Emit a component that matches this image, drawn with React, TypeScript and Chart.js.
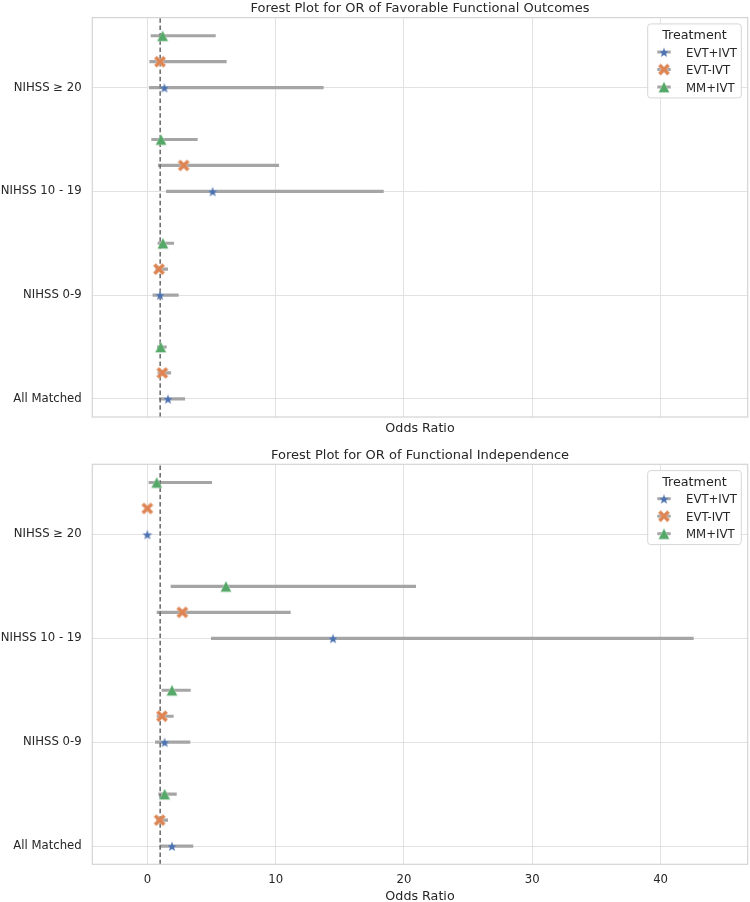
import React, { useEffect, useRef } from "react";
import { Chart, registerables } from "chart.js";
Chart.register(...registerables);

// ---------- data ----------
const categories = ["All Matched", "NIHSS 0-9", "NIHSS 10 - 19", "NIHSS ≥ 20"];
const treatments = ["EVT+IVT", "EVT-IVT", "MM+IVT"];
const xTicks = [0, 10, 20, 30, 40];
const referenceOR = 1;

// Favorable functional outcomes (order follows categories)
const favEvtIvtOR = [1.61, 0.99, 5.09, 1.33];
const favEvtIvtLo = [0.91, 0.41, 1.46, 0.13];
const favEvtIvtHi = [2.94, 2.44, 18.42, 13.74];
const favEvtNoIvtOR = [1.17, 0.91, 2.83, 0.99];
const favEvtNoIvtLo = [0.8, 0.62, 0.83, 0.16];
const favEvtNoIvtHi = [1.85, 1.61, 10.26, 6.18];
const favMmIvtOR = [1.04, 1.22, 1.07, 1.19];
const favMmIvtLo = [0.75, 0.8, 0.31, 0.26];
const favMmIvtHi = [1.51, 2.08, 3.92, 5.33];

// Functional independence
const indEvtIvtOR = [1.92, 1.35, 14.47, 0.0];
const indEvtIvtLo = [0.96, 0.6, 4.96, null];
const indEvtIvtHi = [3.58, 3.35, 42.58, null];
const indEvtNoIvtOR = [0.96, 1.14, 2.73, 0.0];
const indEvtNoIvtLo = [0.7, 0.73, 0.73, null];
const indEvtNoIvtHi = [1.61, 2.05, 11.17, null];
const indMmIvtOR = [1.35, 1.92, 6.13, 0.73];
const indMmIvtLo = [0.86, 1.11, 1.82, 0.1];
const indMmIvtHi = [2.29, 3.38, 20.94, 5.04];

// ---------- styling ----------
const FONT = '"DejaVu Sans", sans-serif';
const TEXT = "#262626";
const COLORS = ["#4C72B0", "#DD8452", "#55A868"];
const CI_COLOR = "#a5a5a5";
const GRID = "#e2e2e2";
const DODGE = [0, 0.25, 0.5];
const X_MIN = -4.29;
const X_MAX = 46.79;
const Y_MIN = -0.175;
const Y_MAX = 3.675;

type Series = { or: number[]; lo: (number | null)[]; hi: (number | null)[] };

function makeCanvas(size: number) {
  const c = document.createElement("canvas");
  c.width = size;
  c.height = size;
  return c;
}

function starMarker(color: string) {
  const size = 14;
  const c = makeCanvas(size);
  const ctx = c.getContext("2d")!;
  const cx = size / 2, cy = size / 2 + 0.7, R = 5.4, r = 2.25;
  ctx.beginPath();
  for (let i = 0; i < 10; i++) {
    const a = -Math.PI / 2 + (i * Math.PI) / 5;
    const rad = i % 2 === 0 ? R : r;
    const px = cx + rad * Math.cos(a), py = cy + rad * Math.sin(a);
    if (i === 0) ctx.moveTo(px, py); else ctx.lineTo(px, py);
  }
  ctx.closePath();
  ctx.fillStyle = color;
  ctx.fill();
  ctx.lineWidth = 0.3;
  ctx.strokeStyle = "rgba(255,255,255,0.7)";
  ctx.stroke();
  return c;
}

function xMarker(color: string) {
  const size = 14;
  const c = makeCanvas(size);
  const ctx = c.getContext("2d")!;
  ctx.translate(size / 2, size / 2);
  ctx.rotate(Math.PI / 4);
  const L = 6.6, w = 1.9;
  ctx.beginPath();
  ctx.moveTo(-w, -L); ctx.lineTo(w, -L); ctx.lineTo(w, -w); ctx.lineTo(L, -w);
  ctx.lineTo(L, w); ctx.lineTo(w, w); ctx.lineTo(w, L); ctx.lineTo(-w, L);
  ctx.lineTo(-w, w); ctx.lineTo(-L, w); ctx.lineTo(-L, -w); ctx.lineTo(-w, -w);
  ctx.closePath();
  ctx.fillStyle = color;
  ctx.fill();
  ctx.lineWidth = 0.4;
  ctx.strokeStyle = "rgba(255,255,255,0.8)";
  ctx.stroke();
  return c;
}

function triMarker(color: string) {
  const size = 14;
  const c = makeCanvas(size);
  const ctx = c.getContext("2d")!;
  const h = 5.6;
  ctx.translate(size / 2, size / 2);
  ctx.beginPath();
  ctx.moveTo(0, -h); ctx.lineTo(h, h); ctx.lineTo(-h, h);
  ctx.closePath();
  ctx.fillStyle = color;
  ctx.fill();
  ctx.lineWidth = 0.4;
  ctx.strokeStyle = "rgba(255,255,255,0.8)";
  ctx.stroke();
  return c;
}

function buildChart(canvas: HTMLCanvasElement, title: string, series: Series[], showXTicks: boolean,
  padTop: number, xScaleHeight: number, xTitlePadBottom: number) {
  const markers = [starMarker(COLORS[0]), xMarker(COLORS[1]), triMarker(COLORS[2])];
  const datasets: any[] = [];
  series.forEach((s, si) => {
    s.or.forEach((_, ci) => {
      const lo = s.lo[ci], hi = s.hi[ci];
      if (lo == null || hi == null) return;
      datasets.push({
        type: "line",
        data: [{ x: lo, y: ci + DODGE[si] }, { x: hi, y: ci + DODGE[si] }],
        borderColor: CI_COLOR, borderWidth: 3.2, pointRadius: 0, borderCapStyle: "butt", order: 5,
      });
    });
  });
  datasets.push({
    type: "line",
    data: [{ x: referenceOR, y: Y_MIN }, { x: referenceOR, y: Y_MAX }],
    borderColor: "#666666", borderWidth: 1.5, borderDash: [4.5, 2.8], pointRadius: 0, order: 3,
  });
  series.forEach((s, si) => {
    datasets.push({
      type: "scatter",
      label: treatments[si],
      data: s.or.map((v, ci) => ({ x: v, y: ci + DODGE[si] })),
      pointStyle: markers[si], pointRadius: 6, order: 1,
    });
  });

  const decor = {
    id: "decor",
    afterDatasetsDraw(chart: any) {
      const { ctx, chartArea: ca } = chart;
      ctx.save();
      ctx.strokeStyle = "#d4d4d4";
      ctx.lineWidth = 1.2;
      ctx.strokeRect(ca.left, ca.top, ca.right - ca.left, ca.bottom - ca.top);
      ctx.fillStyle = TEXT;
      ctx.font = `13px ${FONT}`;
      ctx.textAlign = "center";
      ctx.textBaseline = "alphabetic";
      ctx.fillText(title, (ca.left + ca.right) / 2, ca.top - 5.3);

      // legend
      const bw = 93.6, bh = 74;
      const bx = ca.right - 6.4 - bw, by = ca.top + 6.3;
      const r = 3;
      ctx.beginPath();
      ctx.moveTo(bx + r, by);
      ctx.arcTo(bx + bw, by, bx + bw, by + bh, r);
      ctx.arcTo(bx + bw, by + bh, bx, by + bh, r);
      ctx.arcTo(bx, by + bh, bx, by, r);
      ctx.arcTo(bx, by, bx + bw, by, r);
      ctx.closePath();
      ctx.fillStyle = "rgba(255,255,255,0.85)";
      ctx.fill();
      ctx.strokeStyle = "#d6d6d6";
      ctx.lineWidth = 1;
      ctx.stroke();
      ctx.fillStyle = TEXT;
      ctx.font = `12.7px ${FONT}`;
      ctx.textAlign = "center";
      ctx.fillText("Treatment", bx + bw / 2, by + 15);
      ctx.font = `11.7px ${FONT}`;
      ctx.textAlign = "left";
      treatments.forEach((t, i) => {
        const base = by + 32.7 + i * 17.5;
        const my = base - 4.6;
        ctx.strokeStyle = CI_COLOR;
        ctx.lineWidth = 3;
        ctx.beginPath();
        ctx.moveTo(bx + 9.6, my);
        ctx.lineTo(bx + 23, my);
        ctx.stroke();
        const m = markers[i];
        ctx.drawImage(m, bx + 16.3 - m.width / 2, my - m.height / 2);
        ctx.fillStyle = TEXT;
        ctx.fillText(t, bx + 38.3, base);
      });
      ctx.restore();
    },
  };

  return new Chart(canvas, {
    type: "scatter",
    data: { datasets },
    options: {
      animation: false,
      responsive: false,
      maintainAspectRatio: false,
      devicePixelRatio: 1,
      layout: { autoPadding: false, padding: { top: padTop, right: 2.3, left: 0, bottom: 0 } },
      plugins: { legend: { display: false }, tooltip: { enabled: false }, title: { display: false } },
      scales: {
        x: {
          type: "linear",
          min: X_MIN,
          max: X_MAX,
          afterBuildTicks: (s: any) => { s.ticks = xTicks.map((v) => ({ value: v })); },
          afterFit: (s: any) => { s.height = xScaleHeight; },
          grid: { color: GRID, lineWidth: 1, drawTicks: false },
          border: { display: false },
          ticks: { display: showXTicks, padding: 9, color: TEXT, font: { family: FONT, size: 11.7 } },
          title: {
            display: true, text: "Odds Ratio", color: TEXT,
            font: { family: FONT, size: 12.7, lineHeight: 0.8 },
            padding: { top: 0, bottom: xTitlePadBottom },
          },
        },
        y: {
          type: "linear",
          min: Y_MIN,
          max: Y_MAX,
          afterBuildTicks: (s: any) => { s.ticks = categories.map((_, i) => ({ value: i })); },
          afterFit: (s: any) => { s.width = 92.3; },
          grid: { color: GRID, lineWidth: 1, drawTicks: false },
          border: { display: false },
          ticks: {
            padding: 10.6, color: TEXT, font: { family: FONT, size: 11.7 },
            callback: (v: any) => categories[Math.round(Number(v))] ?? "",
          },
        },
      },
    },
    plugins: [decor],
  } as any);
}

export default function App() {
  const topRef = useRef<HTMLCanvasElement>(null);
  const botRef = useRef<HTMLCanvasElement>(null);
  useEffect(() => {
    const fav: Series[] = [
      { or: favEvtIvtOR, lo: favEvtIvtLo, hi: favEvtIvtHi },
      { or: favEvtNoIvtOR, lo: favEvtNoIvtLo, hi: favEvtNoIvtHi },
      { or: favMmIvtOR, lo: favMmIvtLo, hi: favMmIvtHi },
    ];
    const ind: Series[] = [
      { or: indEvtIvtOR, lo: indEvtIvtLo, hi: indEvtIvtHi },
      { or: indEvtNoIvtOR, lo: indEvtNoIvtLo, hi: indEvtNoIvtHi },
      { or: indMmIvtOR, lo: indMmIvtLo, hi: indMmIvtHi },
    ];
    const c1 = buildChart(topRef.current!, "Forest Plot for OR of Favorable Functional Outcomes", fav, false, 17, 23, 6.5);
    const c2 = buildChart(botRef.current!, "Forest Plot for OR of Functional Independence", ind, true, 24.3, 37.7, 0.3);
    return () => { c1.destroy(); c2.destroy(); };
  }, []);
  return (
    <div style={{ position: "fixed", left: 0, top: 0, width: 750, height: 902, background: "#fff" }}>
      <canvas ref={topRef} width={750} height={440} style={{ position: "absolute", left: 0, top: 0, width: 750, height: 440 }} />
      <canvas ref={botRef} width={750} height={462} style={{ position: "absolute", left: 0, top: 440, width: 750, height: 462 }} />
    </div>
  );
}
